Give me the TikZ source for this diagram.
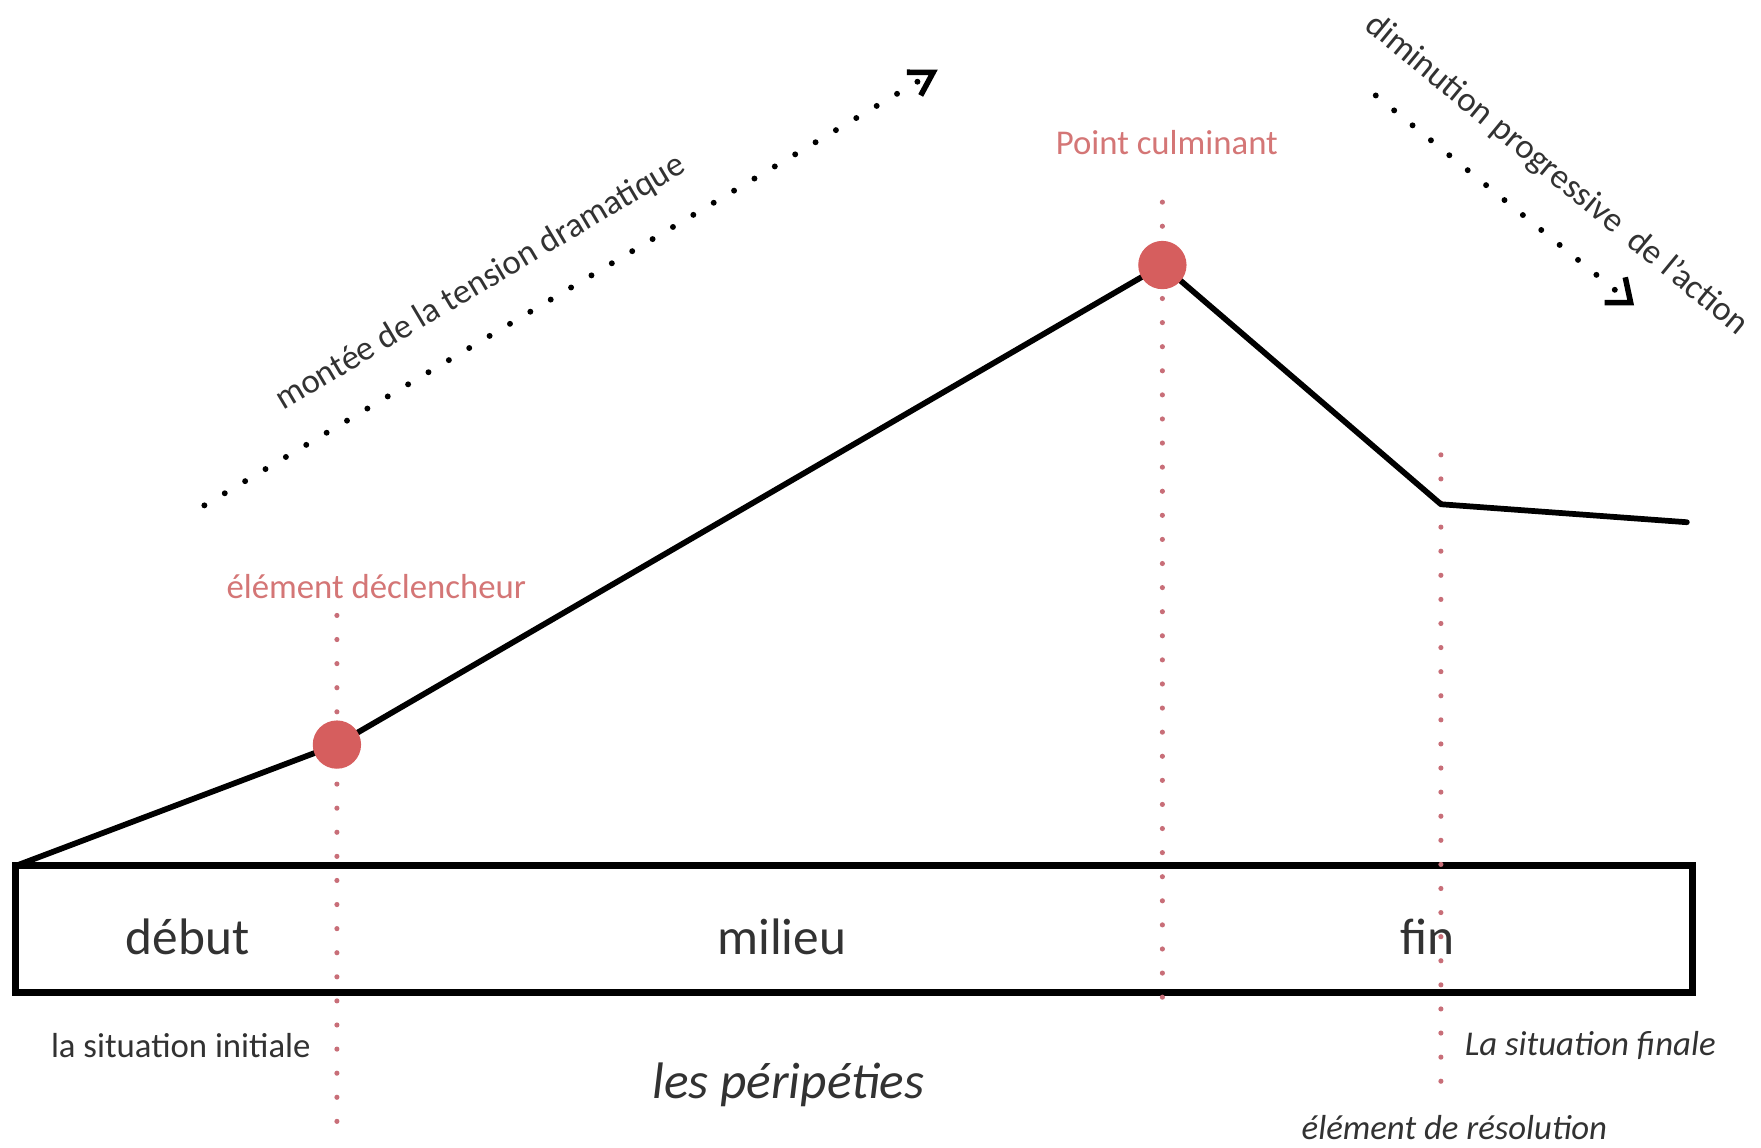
\documentclass[tikz,border=0pt]{standalone}
\usepackage{fontspec}
\setmainfont{Carlito}
\usetikzlibrary{arrows.meta}
\definecolor{dotred}{RGB}{214,94,94}
\definecolor{labred}{RGB}{212,118,118}
\definecolor{guidered}{RGB}{200,110,120}
\definecolor{txtgray}{RGB}{50,50,50}
\begin{document}
\begin{tikzpicture}[
  x=0.01cm, y=-0.01cm,
  curve/.style={draw, line width=1.45pt, line join=round, line cap=round},
  frame/.style={draw, line width=1.75pt},
  peak/.style={circle, fill=dotred, minimum size=4.3mm, inner sep=0pt},
  guide/.style={draw=guidered, line width=1.3pt, line cap=round, dash pattern=on 0pt off 6.1pt},
  trend/.style={draw, line width=1.5pt, line cap=round, dash pattern=on 0pt off 6pt},
  uptip/.style={-{Straight Barb[length=2mm, width=2.4mm, line width=1.4pt]}},
  dntip/.style={-{Straight Barb[length=1.8mm, width=2.9mm, line width=1.4pt]}},
  small/.style={font=\fontsize{8.8}{10}\selectfont, text=txtgray, inner sep=0pt, anchor=base},
  smallit/.style={small, font=\fontsize{8.8}{10}\selectfont\itshape},
  big/.style={font=\fontsize{13}{15}\selectfont, text=txtgray, inner sep=0pt, anchor=base},
  bigit/.style={big, font=\fontsize{13}{15}\selectfont\itshape},
  redlab/.style={small, text=labred}
]
\useasboundingbox (0,0) rectangle (1568,1022);

% --- key points ---
\coordinate (start)  at (14,771);
\coordinate (trig)   at (300,663);
\coordinate (climax) at (1035,236);
\coordinate (resol)  at (1283,449);
\coordinate (stop)   at (1502,465);

% --- box ---
\coordinate (boxnw) at (14,771);
\coordinate (boxse) at (1507,884);
\draw[frame] (boxnw) rectangle (boxse);

% --- red guides ---
\coordinate (g1top) at (300,548);  \coordinate (g1bot) at (300,1010);
\coordinate (g2top) at (1035,180); \coordinate (g2bot) at (1035,888);
\coordinate (g3top) at (1283,405); \coordinate (g3bot) at (1283,980);
\draw[guide] (g1top) -- (g1bot);
\draw[guide] (g2top) -- (g2bot);
\draw[guide] (g3top) -- (g3bot);

% --- tension curve ---
\draw[curve] (start) -- (trig) -- (climax) -- (resol) -- (stop);
\node[peak] (trigdot) at (trig) {};
\node[peak] (climaxdot) at (climax) {};

% --- trend arrows ---
\coordinate (upfrom) at (182,450);  \coordinate (upto) at (835,62);
\coordinate (dnfrom) at (1225,85);  \coordinate (dnto) at (1455,272);
\draw[trend, uptip] (upfrom) -- (upto);
\draw[trend, dntip] (dnfrom) -- (dnto);
\node[small, anchor=center, rotate=30.7] (uplab) at (428,252) {montée de la tension dramatique};
\node[small, anchor=center, rotate=-39.5] (dnlab) at (1386,156) {diminution progressive\ \ de l’action};

% --- labels ---
\node[redlab] (triglab) at (335,533) {élément déclencheur};
\node[redlab] (climaxlab) at (1039,138) {Point culminant};
\node[big] (debut) at (167,850) {début};
\node[big] (milieu) at (696,850) {milieu};
\node[big] (fin) at (1271,850) {fin};
\node[small] (initlab) at (161,942) {la situation initiale};
\node[bigit] (perip) at (702,978) {les péripéties};
\node[smallit] (finlab) at (1416,940) {La situation finale};
\node[smallit] (resollab) at (1295,1015) {élément de résolution};

\end{tikzpicture}
\end{document}
